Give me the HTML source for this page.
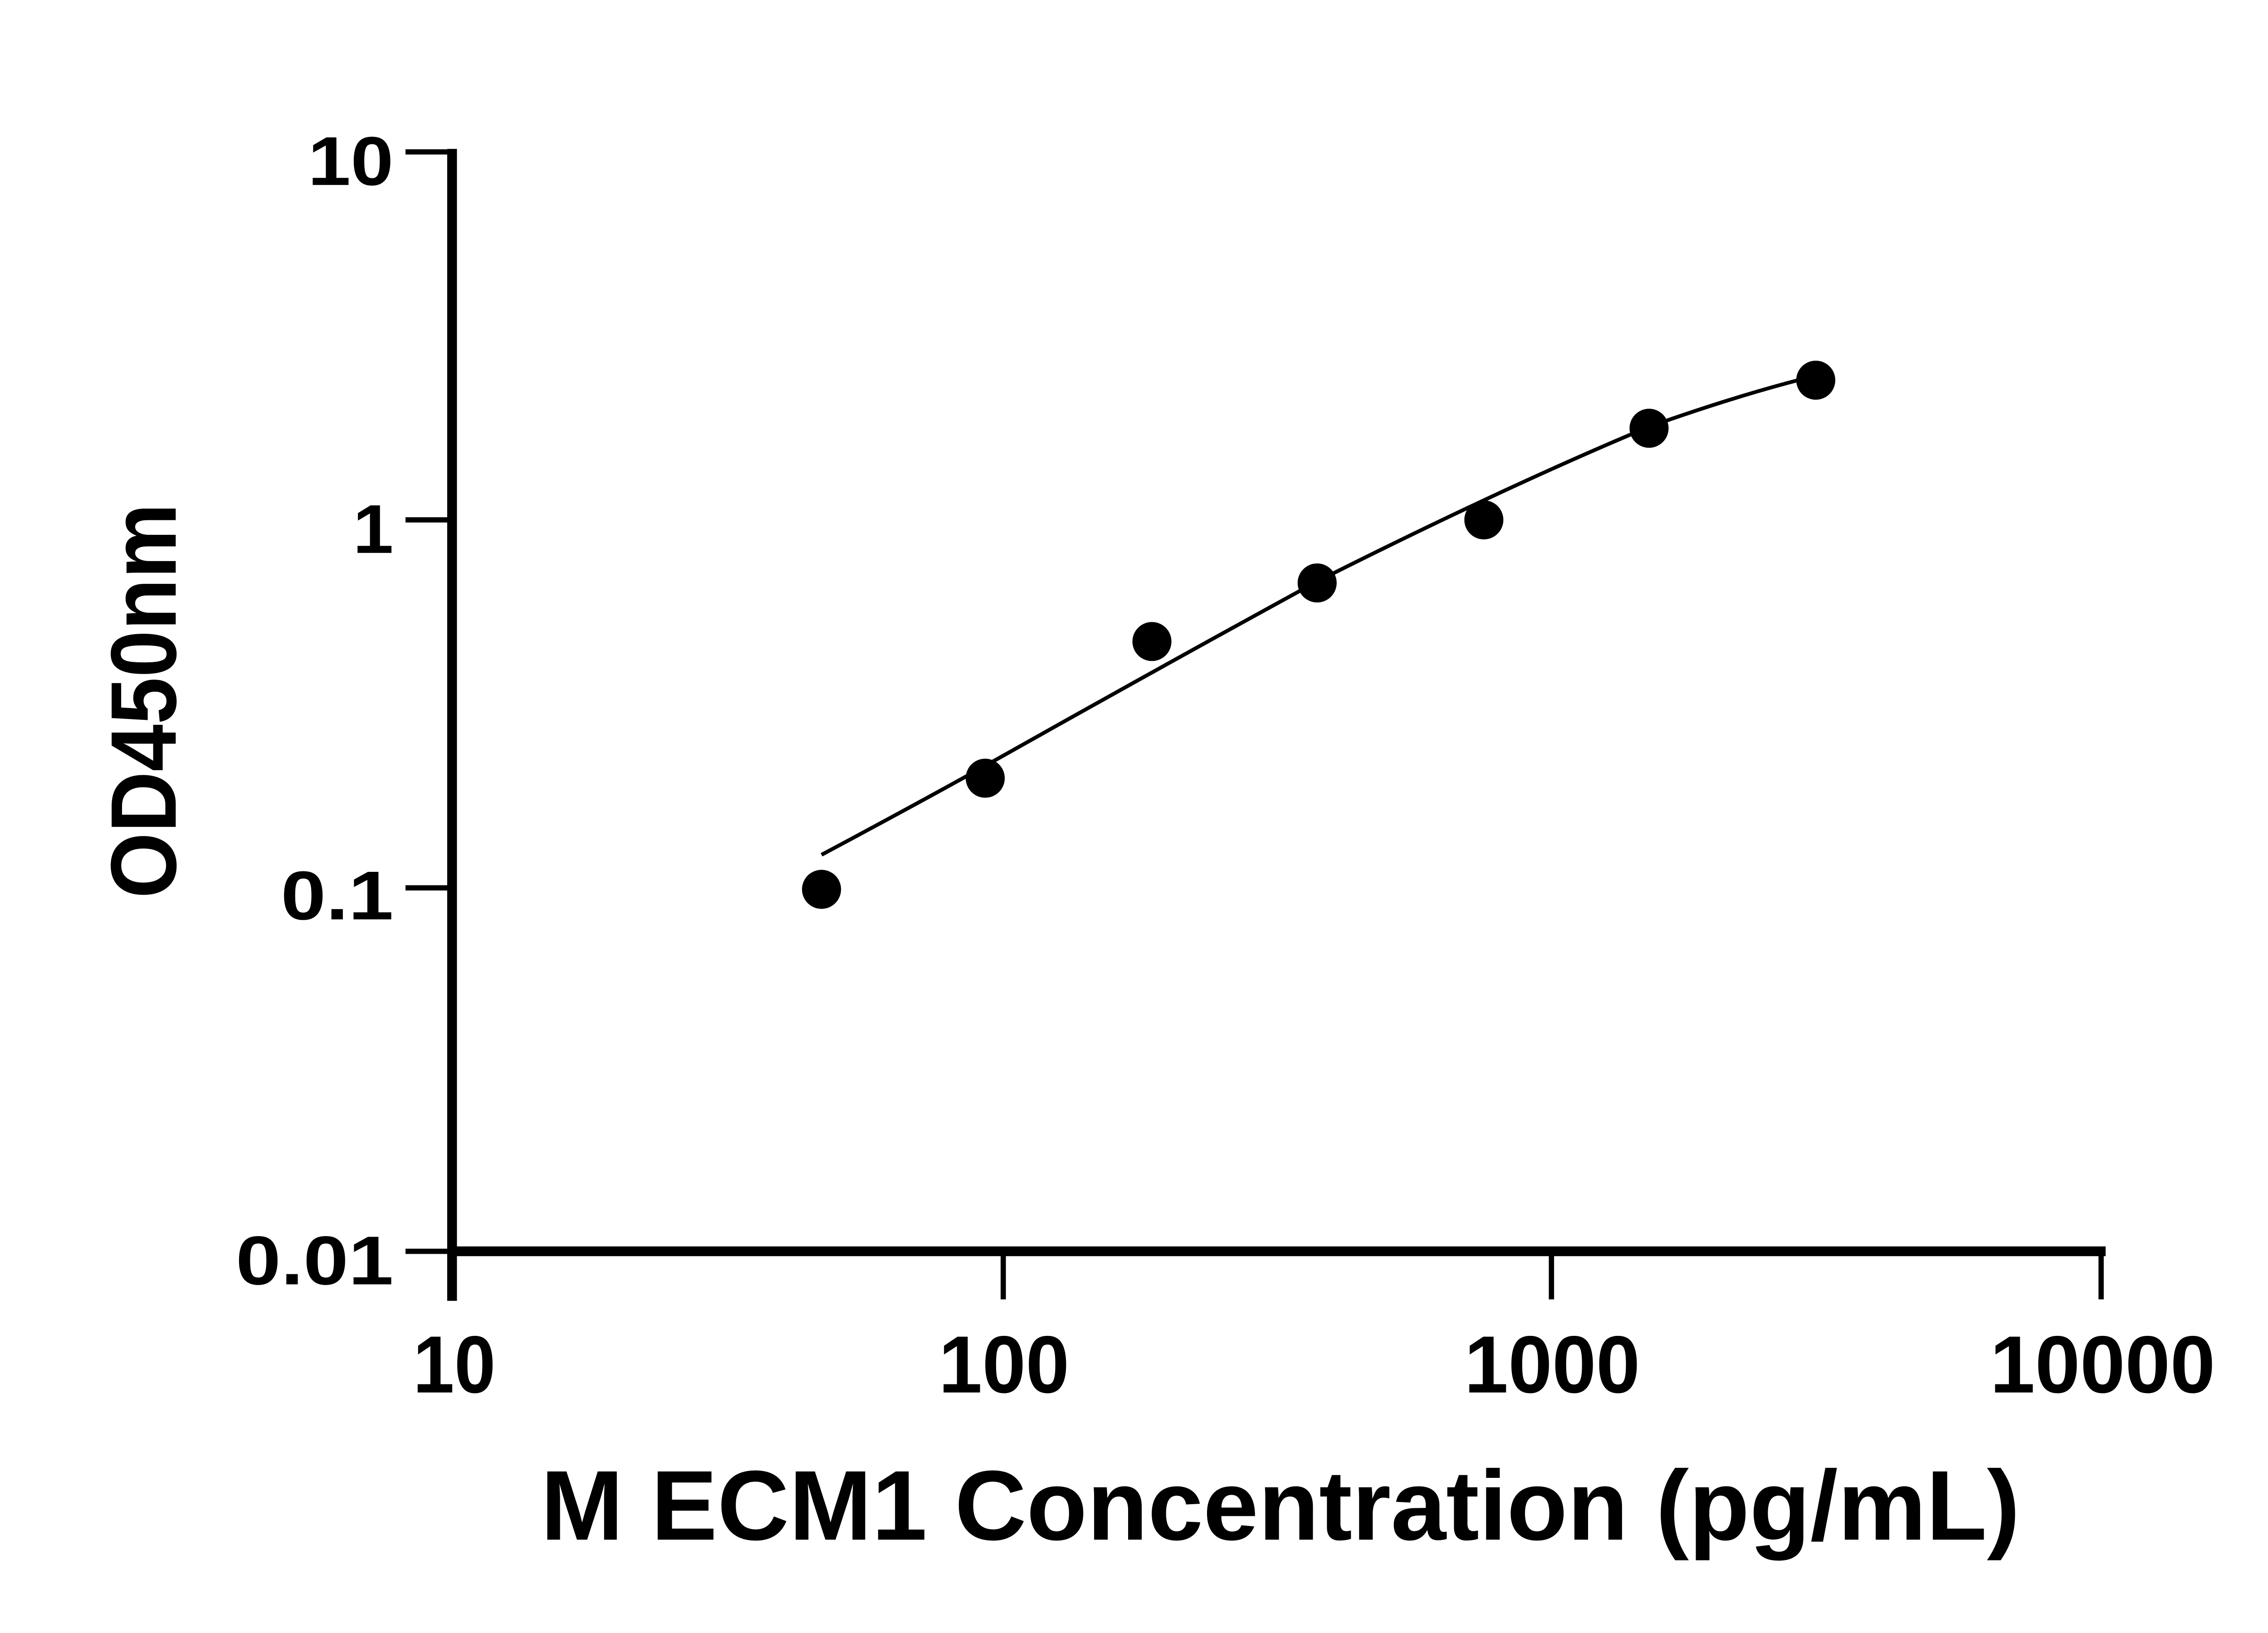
<!DOCTYPE html>
<html><head><style>html,body{margin:0;padding:0;background:#fff}svg{display:block}</style></head><body>
<svg width="5142" height="3600" viewBox="0 0 1553 1087" xmlns="http://www.w3.org/2000/svg" font-family="Liberation Sans, sans-serif" font-weight="bold">
<rect width="1553" height="1087" fill="#fff"/>
<g stroke="#000" fill="none">
<line x1="301" y1="99" x2="301" y2="866" stroke-width="6.5"/>
<line x1="298" y1="833" x2="1402" y2="833" stroke-width="6.5"/>
<g stroke-width="3.5">
<line x1="270" y1="101" x2="301" y2="101"/>
<line x1="270" y1="346" x2="301" y2="346"/>
<line x1="270" y1="591" x2="301" y2="591"/>
<line x1="270" y1="833" x2="301" y2="833"/>
<line x1="668" y1="833" x2="668" y2="865"/>
<line x1="1033" y1="833" x2="1033" y2="865"/>
<line x1="1399" y1="831" x2="1399" y2="865"/>
</g>
<path d="M547,569 Q620,530 668,503 Q780,440 877,387 Q1000,325 1098,284 Q1160,262 1209,250" stroke-width="2.5"/>
</g>
<g fill="#000">
<circle cx="547" cy="592" r="13"/>
<circle cx="656" cy="518" r="13"/>
<circle cx="767" cy="427" r="13"/>
<circle cx="877" cy="388" r="13"/>
<circle cx="988" cy="346" r="13"/>
<circle cx="1098" cy="285" r="13"/>
<circle cx="1209" cy="253" r="13"/>
</g>
<g font-size="46">
<text x="205" y="123" textLength="57" lengthAdjust="spacingAndGlyphs">10</text>
<text x="235" y="368" textLength="27" lengthAdjust="spacingAndGlyphs">1</text>
<text x="187" y="612" textLength="75" lengthAdjust="spacingAndGlyphs">0.1</text>
<text x="157" y="855" textLength="105" lengthAdjust="spacingAndGlyphs">0.01</text>
</g>
<g font-size="54">
<text x="275" y="927" textLength="55" lengthAdjust="spacingAndGlyphs">10</text>
<text x="625" y="927" textLength="87" lengthAdjust="spacingAndGlyphs">100</text>
<text x="975" y="927" textLength="117" lengthAdjust="spacingAndGlyphs">1000</text>
<text x="1325" y="927" textLength="150" lengthAdjust="spacingAndGlyphs">10000</text>
</g>
<text x="360" y="1025" font-size="66" textLength="985" lengthAdjust="spacingAndGlyphs">M ECM1 Concentration (pg/mL)</text>
<text transform="translate(117,598) rotate(-90)" font-size="62" textLength="263" lengthAdjust="spacingAndGlyphs">OD450nm</text>
</svg>
</body></html>
